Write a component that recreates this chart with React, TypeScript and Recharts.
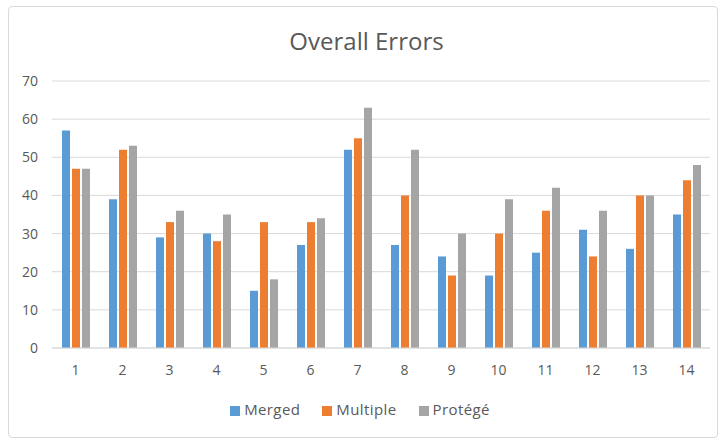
import { BarChart, Bar, XAxis, YAxis, CartesianGrid, Legend } from "recharts"

const trials = ["1", "2", "3", "4", "5", "6", "7", "8", "9", "10", "11", "12", "13", "14"]
const merged = [57, 39, 29, 30, 15, 27, 52, 27, 24, 19, 25, 31, 26, 35]
const multiple = [47, 52, 33, 28, 33, 33, 55, 40, 19, 30, 36, 24, 40, 44]
const protege = [47, 53, 36, 35, 18, 34, 63, 52, 30, 39, 42, 36, 40, 48]
const yTicks = [0, 10, 20, 30, 40, 50, 60, 70]

const data = trials.map((t, i) => ({
  trial: t,
  Merged: merged[i],
  Multiple: multiple[i],
  "Protégé": protege[i],
}))

const FONT = "'Open Sans', sans-serif"
const TEXT = "#595959"

export default function App() {
  return (
    <div style={{ position: "absolute", left: 0, top: 0, width: 725, height: 442, background: "#fff", fontFamily: FONT }}>
      {/* chart frame */}
      <div
        style={{
          position: "absolute", left: 8, top: 6, width: 708, height: 430,
          border: "1px solid #d9d9d9", borderRadius: 4,
        }}
      />
      <div
        style={{
          position: "absolute", left: 0, width: 733, top: 24, textAlign: "center",
          fontSize: 24, color: TEXT,
        }}
      >
        Overall Errors
      </div>
      <div style={{ position: "absolute", left: 0, top: 0 }}>
        <BarChart
          width={725}
          height={442}
          data={data}
          margin={{ top: 81, right: 15, left: 0, bottom: 30 }}
          barSize={8}
          barGap={2}
        >
          <CartesianGrid vertical={false} stroke="#d9d9d9" />
          <XAxis
            dataKey="trial"
            tickLine={false}
            axisLine={{ stroke: "#d9d9d9" }}
            tickMargin={11}
            tick={{ fill: TEXT, fontSize: 14, fontFamily: FONT }}
            height={30}
          />
          <YAxis
            domain={[0, 70]}
            ticks={yTicks}
            tickLine={false}
            axisLine={false}
            width={52}
            tickMargin={8}
            tick={{ fill: TEXT, fontSize: 14, fontFamily: FONT }}
          />
          <Legend
            verticalAlign="bottom"
            iconType="square"
            iconSize={10}
            height={34}
            wrapperStyle={{ fontSize: 15, letterSpacing: 0.4, fontFamily: FONT, top: 399, left: 16 }}
            formatter={(value) => <span style={{ color: TEXT, marginRight: 12 }}>{value}</span>}
          />
          <Bar dataKey="Merged" fill="#5b9bd5" isAnimationActive={false} />
          <Bar dataKey="Multiple" fill="#ed7d31" isAnimationActive={false} />
          <Bar dataKey="Protégé" fill="#a5a5a5" isAnimationActive={false} />
        </BarChart>
      </div>
    </div>
  )
}
